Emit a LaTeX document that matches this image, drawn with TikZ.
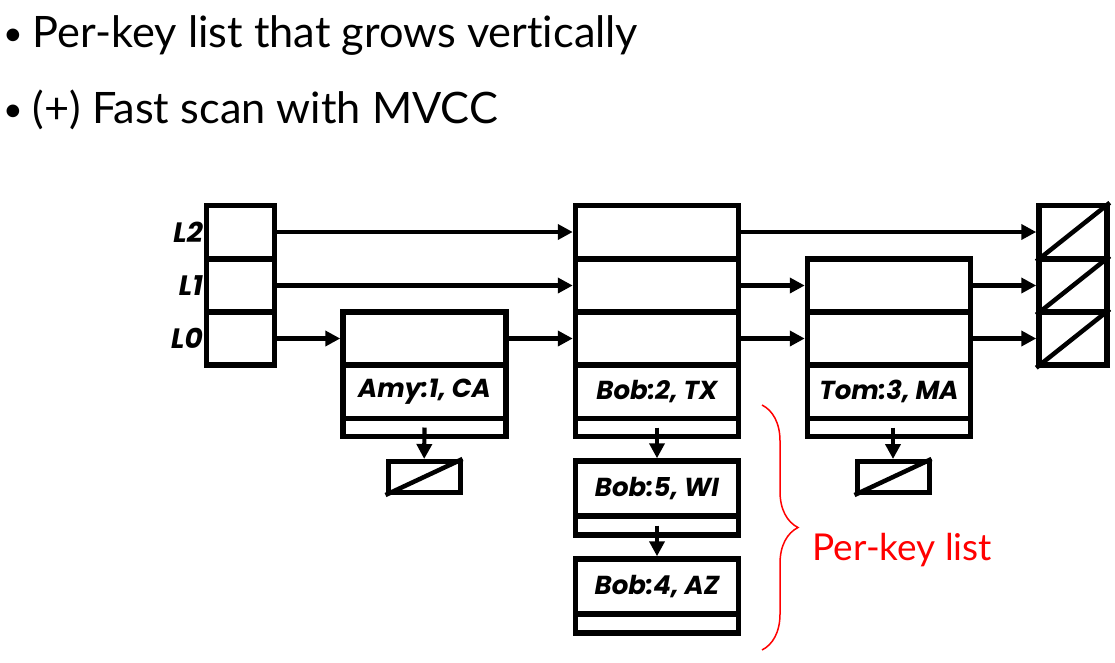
\documentclass[tikz,border=0pt]{standalone}
\usepackage{fontspec}
\setmainfont{Lato}[Ligatures=NoCommon]
\newfontfamily\keyfont{Poppins}
\usetikzlibrary{arrows.meta,decorations.pathreplacing}
\newcommand{\dotmark}{\raisebox{2pt}{\fontsize{34}{34}\selectfont\textbullet}\kern10pt}
\tikzset{
  cell/.style={draw,line width=5.5pt,minimum width=163pt,minimum height=53pt,inner sep=0pt},
  headcell/.style={cell,minimum width=68pt},
  datacell/.style={cell,minimum height=54pt,font=\keyfont\bfseries\itshape\fontsize{26}{26}\selectfont},
  ptrcell/.style={cell,minimum height=18pt},
  nilcell/.style={cell,minimum width=72pt,minimum height=31pt,line width=5pt},
  lvl/.style={anchor=east,inner sep=1pt,font=\keyfont\bfseries\itshape\fontsize{28}{28}\selectfont},
  ptr/.style={line width=4.2pt,-{Triangle[length=15pt,width=15pt]}},
  bullet/.style={anchor=base west,inner sep=0pt,font=\fontsize{43.3}{43.3}\selectfont}
}
\begin{document}
\begin{tikzpicture}[x=1pt,y=-1pt]
      \useasboundingbox (0,0) rectangle (1115,662);
      \draw
        (3,47) node[bullet] (t1){\dotmark Per-key list that grows vertically}
        (3,123) node[bullet] (t2){\dotmark (+) Fast scan with MVCC};
      % head
      \draw
        (240.5,232) node[headcell] (h2){}
        (240.5,285.5) node[headcell] (h1){}
        (240.5,338.5) node[headcell] (h0){}
        (204,232) node[lvl] (l2){L2}
        (204,285.5) node[lvl] (l1){L1}
        (204,338.5) node[lvl] (l0){L0};
      % Amy
      \draw
        (424.5,338.5) node[cell] (a0){}
        (424.5,391.5) node[datacell] (ad){Amy:1, CA}
        (424.5,427.5) node[ptrcell] (ap){}
        (424,477) node[nilcell] (an){};
      % Bob
      \draw
        (657,232) node[cell] (b2){}
        (657,285.5) node[cell] (b1){}
        (657,338.5) node[cell] (b0){}
        (657,391.5) node[datacell] (bd){Bob:2, TX}
        (657,427.5) node[ptrcell] (bp){}
        (657,488.5) node[datacell,minimum height=55pt] (b5d){Bob:5, WI}
        (657,525.5) node[ptrcell,minimum height=19pt] (b5p){}
        (657,586.5) node[datacell,minimum height=55pt] (b4d){Bob:4, AZ}
        (657,623.5) node[ptrcell,minimum height=19pt] (b4p){};
      % Tom
      \draw
        (889,285.5) node[cell] (m1){}
        (889,338.5) node[cell] (m0){}
        (889,391.5) node[datacell] (md){Tom:3, MA}
        (889,427.5) node[ptrcell] (mp){}
        (893,477) node[nilcell] (mn){};
      % tail
      \draw
        (1073,232) node[headcell] (n2){}
        (1073,285.5) node[headcell] (n1){}
        (1073,338.5) node[headcell] (n0){};
      \begin{scope}[line width=4.5pt]
        \draw (an.south west) to (an.north east);
        \draw (mn.south west) to (mn.north east);
        \draw (n2.south west) to (n2.north east);
        \draw (n1.south west) to (n1.north east);
        \draw (n0.south west) to (n0.north east);
      \end{scope}
      \begin{scope}[ptr]
        \draw (h2) to (b2);
        \draw (b2) to (n2);
        \draw (h1) to (b1);
        \draw (b1) to (m1);
        \draw (m1) to (n1);
        \draw (h0) to (a0);
        \draw (a0) to (b0);
        \draw (b0) to (m0);
        \draw (m0) to (n0);
        \draw (ap.center) to (an);
        \draw (bp.center) to (b5d);
        \draw (b5p.center) to (b4d);
        \draw (mp.center -| mn) to (mn);
      \end{scope}
      % per-key list
      \coordinate (bt) at (762,405);
      \coordinate (bb) at (762,650);
      \draw[red,line width=1.5pt,decorate,decoration={brace,amplitude=36pt}] (bt) to (bb);
      \draw (809,550) node[anchor=west,text=red,font=\fontsize{37}{37}\selectfont] (pk){Per-key list};
    \end{tikzpicture}
\end{document}
